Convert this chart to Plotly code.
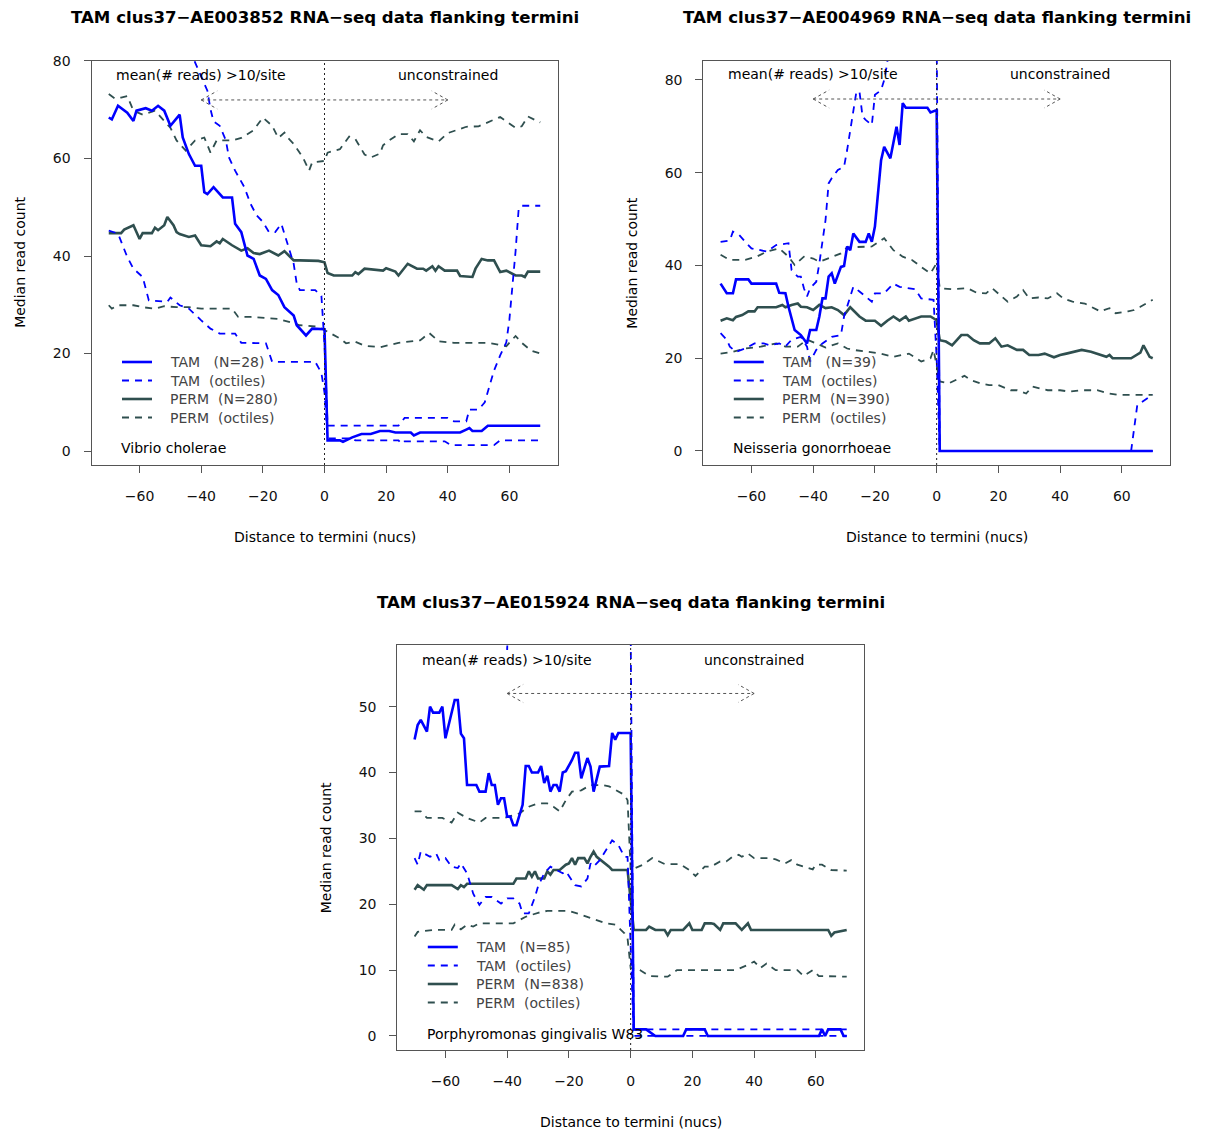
import plotly.graph_objects as go

# ---------------------------------------------------------------
# Median RNA-seq read counts around TAM termini (clus37) compared
# with permuted sites, for three genomes.
# ---------------------------------------------------------------

X_TICKS = [-60, -40, -20, 0, 20, 40, 60]

# ---- Vibrio cholerae (AE003852) ----
vc_tam_x = [-70, -69, -67, -64, -62, -61, -58, -56, -54, -52, -50, -47, -46, -44, -42, -40, -39, -38, -36, -33,
            -30, -29, -27, -25, -23, -21, -19, -17, -15, -13, -10, -9, -6, -4, 0, 1, 5, 6, 9, 12, 15, 18, 21, 23,
            28, 29, 31, 44, 46, 47, 48, 51, 53, 70]
vc_tam_y = [68.4, 68, 70.8, 69.4, 67.7, 69.8, 70.3, 69.8, 70.8, 69.8, 66.7, 69, 64.3, 60.9, 58.5, 58.5, 53.1, 52.7, 54.1, 52,
            52, 46.6, 44.9, 40.1, 39.4, 36, 35.3, 33, 32, 29.5, 27.8, 25.8, 23.7, 25.1, 25, 2.2, 2.2, 1.9, 2.8, 3.5, 3.5, 4.1, 4.1, 3.8,
            3.8, 3.2, 3.8, 3.8, 4.4, 4.7, 4.1, 4.1, 5.2, 5.2]
vc_tam_hi_x = [-70, -44, -42, -38, -37, -36, -34, -32, -31, -29, -26, -24, -22, -20, -18, -16, -14, -12, -10, -9, -8, -3, -1, 0,
               1, 10, 24, 26, 40, 42, 46, 47, 50, 52, 54, 55, 57, 59, 60, 61, 62, 63, 64, 70]
vc_tam_hi_y = [95, 84, 79.7, 73.9, 70.1, 67.6, 66.7, 63.7, 60.2, 57.5, 54.1, 50.7, 48.3, 47, 44.9, 44.9, 46.6, 42.5, 38.4, 34.3, 33, 33, 31.8, 22,
               5.2, 5.2, 5.2, 6.8, 6.8, 6.1, 6.1, 8.5, 8.5, 10, 14, 16.5, 19.6, 22.3, 27, 33.5, 41, 49.7, 50.3, 50.3]
vc_tam_lo_x = [-70, -67, -64, -62, -59, -57, -51, -50, -47, -44, -40, -37, -34, -29, -27, -19, -17, -3, -1, 0,
               1, 9, 10, 24, 25, 26, 39, 41, 55, 57, 70]
vc_tam_lo_y = [45.2, 44.6, 39.8, 37.4, 35.7, 30.9, 30.6, 31.5, 29.9, 29.2, 26.8, 25.1, 24.1, 24.1, 22.2, 22.1, 18.3, 18.3, 16, 12,
               2.6, 2.6, 2.2, 2.2, 1.5, 2.0, 2.0, 1.2, 1.2, 2.2, 2.2]
vc_perm_x = [-70, -66, -65, -62, -60, -59, -56, -55, -54, -52, -51, -49, -48, -47, -44, -42, -40, -37, -35, -34, -33, -30,
             -27, -25, -23, -21, -18, -15, -13, -10, -8, -2, 0, 1, 3, 9, 10, 11, 13, 19, 20, 23, 24, 27, 30, 32, 33, 35,
             36, 37, 39, 43, 44, 48, 49, 51, 53, 55, 57, 59, 62, 64, 65, 66, 70]
vc_perm_y = [44.7, 44.7, 45.4, 46.3, 43.5, 44.7, 44.7, 45.8, 45.3, 46.3, 48, 46.3, 44.9, 44.5, 43.9, 44.2, 42.2, 42.0, 43, 42.6, 43.5, 42.2,
             41.1, 41.6, 40.6, 40.4, 41.1, 40.1, 41.0, 39.1, 39.1, 39, 38.7, 36.5, 36, 36, 36.7, 36.3, 37.4, 37, 37.5, 36.8, 36, 38.4, 37.4, 37.4, 37, 37.9,
             37, 37.9, 37, 37, 35.9, 35.7, 37.4, 39.4, 39.1, 39.1, 36.7, 37, 36, 36, 35.7, 36.8, 36.8]
vc_perm_hi_x = [-70, -68, -66, -64, -62, -59, -55, -53, -50, -48, -45, -42, -39, -37, -35, -30, -27, -23, -20, -17, -15, -13, -12,
                -10, -7, -5, -4, 0, 1, 5, 8, 10, 13, 15, 18, 19, 21, 24, 27, 29, 31, 33, 37, 40, 43, 46, 50, 54, 57, 59,
                62, 64, 66, 70]
vc_perm_hi_y = [73.2, 72.3, 72.5, 72.8, 69.8, 69, 69.8, 68.4, 66.3, 63.7, 61.6, 63.7, 64.3, 61.2, 63.7, 63.7, 64.2, 65.8, 68.4, 66.7, 64.2, 65.3, 64.3,
                63, 60.2, 57.5, 59.2, 59.5, 61.2, 61.9, 64.5, 64, 60.8, 60.2, 61, 62.7, 63.7, 65, 65, 63.5, 65.8, 64.4, 63.5, 65.2, 65.8, 66.5, 66.6, 67.6, 68.5, 67.6,
                66.3, 66.6, 68.6, 67.4]
vc_perm_lo_x = [-70, -69, -67, -62, -59, -55, -52, -48, -44, -40, -30, -28, -24, -15, -11, -8, -2, 1, 5, 7, 10, 13, 18, 24,
                31, 32, 34, 36, 37, 42, 53, 59, 62, 64, 67, 70]
vc_perm_lo_y = [29.9, 29.2, 29.9, 29.9, 29.5, 29.2, 29.7, 29.5, 29.5, 29.2, 29.2, 27.5, 27.5, 27.1, 26.4, 25.8, 25.5, 24.4, 23.1, 22.1, 22.4, 21.6, 21.3, 22.2,
                22.7, 23.2, 24.2, 23.1, 22.5, 22.2, 22.2, 21.5, 23.6, 22.2, 20.6, 20]

# ---- Neisseria gonorrhoeae (AE004969) ----
ng_tam_x = [-70, -68, -66, -65, -61, -60, -52, -51, -49, -48, -46, -44, -42, -41, -39, -38, -37, -36, -35, -34, -33, -31,
            -30, -29, -28, -27, -25, -23, -22, -21, -20, -18, -17, -15, -13, -12, -11, -10, -3, -2, 0, 1, 70]
ng_tam_y = [36.1, 34, 34, 37, 37, 36.1, 36.1, 34.1, 34, 31.1, 26.1, 25, 23.2, 26.1, 26.1, 29, 32.9, 32.9, 37.6, 38.3, 36.1, 39.7,
            39.9, 44.1, 43.3, 46.9, 45.1, 45.1, 46.9, 45.1, 48.4, 62.7, 65.6, 63.1, 69.9, 66, 75, 74, 74, 73, 73.5, 0, 0]
ng_tam_hi_x = [-70, -67, -66, -64, -62, -60, -55, -52, -48, -47, -45, -44, -43, -42, -41, -39, -38, -37, -36, -35, -34, -32,
               -30, -29, -28, -27, -26, -25, -24, -23, -21, -20, -18, -17, -16, -15, -1, 0, 1, 63, 65, 69, 70]
ng_tam_hi_y = [45.1, 45.4, 47.3, 46.6, 45.1, 43.7, 43, 44.4, 44.8, 39, 37.6, 37.6, 35.1, 33.3, 35.1, 36.5, 40.5, 44.8, 49.8, 57.7, 58.8, 60.6,
               61.3, 64.9, 68.9, 73.5, 77.5, 77.5, 72.1, 71.4, 70.3, 76.8, 77.8, 80, 83.6, 92, 95, 90, 0, 0, 9.9, 11.7, 12.2]
ng_tam_lo_x = [-70, -68, -67, -65, -62, -59, -56, -54, -51, -49, -47, -44, -42, -41, -39, -37, -34, -31, -30, -29, -27, -25,
               -23, -21, -20, -17, -14, -12, -7, -5, -1, 0, 1, 70]
ng_tam_lo_y = [25.4, 24, 22.5, 21.4, 22.1, 23.2, 23.2, 22.8, 23.2, 22.5, 24, 24.6, 22.5, 19.3, 21.8, 23.2, 24.6, 25, 29, 31.1, 35.4, 34.4,
               33.3, 32.2, 34, 34, 36.1, 35.4, 34.9, 32.9, 32.6, 20, 0, 0]
ng_perm_x = [-70, -68, -66, -65, -63, -61, -59, -58, -52, -50, -49, -47, -45, -44, -42, -40, -38, -36, -34, -32, -30, -28,
             -25, -23, -20, -18, -16, -14, -12, -10, -9, -5, -2, 0, 1, 3, 5, 8, 10, 12, 14, 17, 19, 21, 23, 26, 28,
             30, 33, 35, 38, 40, 42, 45, 47, 50, 53, 55, 56, 57, 63, 66, 67, 69, 70]
ng_perm_y = [28.1, 28.6, 28.2, 28.9, 29.3, 30.1, 30.1, 31, 31, 31.5, 31, 31.5, 31.8, 31.1, 31, 30.4, 31.5, 30.8, 31, 30.4, 29.3, 31,
             29, 28.1, 28.1, 27, 28.1, 29, 28.1, 29, 28.1, 29, 29, 28.2, 23.9, 23.6, 22.8, 25, 25, 23.9, 23.2, 23.2, 24.3, 22.5, 22.8, 21.8, 21.8,
             20.7, 20.7, 21, 20.2, 20.7, 21, 21.4, 21.8, 21.4, 20.7, 20.3, 20.7, 20, 20, 21.2, 22.8, 20.3, 20]
ng_perm_hi_x = [-70, -67, -62, -58, -55, -51, -48, -46, -43, -40, -38, -35, -31, -29, -21, -17, -14, -11, -8, -5, -2, 0, 1,
                5, 10, 13, 16, 18, 20, 23, 26, 28, 30, 33, 36, 39, 41, 44, 48, 51, 53, 56, 58, 62, 64, 66, 69, 70]
ng_perm_hi_y = [42.3, 41.2, 41.2, 42, 43, 43.7, 41.9, 40.1, 41.9, 41.5, 40.8, 41.5, 42.6, 43.9, 44.1, 45.9, 43.3, 41.9, 41.2, 39.7, 38.3, 40.5, 35.1,
                34.9, 35.1, 34.1, 34, 35.1, 34, 32.2, 33.3, 34.7, 32.9, 33.1, 32.9, 34, 32.9, 32.2, 31.8, 30.8, 30.1, 30.8, 29.7, 30.1, 30.4, 31.1, 32.2, 32.6]
ng_perm_lo_x = [-70, -66, -62, -57, -52, -49, -45, -42, -39, -36, -32, -29, -27, -23, -18, -14, -9, -5, -2, -1, 1, 4,
                6, 9, 11, 14, 17, 20, 24, 26, 29, 31, 36, 40, 43, 47, 52, 56, 59, 70]
ng_perm_lo_y = [21, 21.4, 22.1, 22.5, 23.2, 22.5, 22.5, 24, 23.2, 22.3, 23.2, 22.1, 21.8, 21.4, 21, 20.3, 21, 19.3, 20, 21.8, 15, 14.6,
                15.3, 16.2, 15.3, 14.6, 14.2, 14.2, 13.1, 13.1, 12.4, 13.9, 13.1, 13.1, 12.8, 13.1, 13.1, 12.4, 12.1, 12.1]

# ---- Porphyromonas gingivalis W83 (AE015924) ----
pg_tam_x = [-70, -69, -68, -66, -65, -64, -62, -61, -60, -57, -56, -55, -54, -53, -50, -49, -47, -46, -45, -44, -43, -42,
            -41, -40, -39, -38, -37, -35, -34, -33, -32, -30, -29, -28, -27, -26, -25, -24, -23, -22, -21, -19, -18, -17,
            -16, -14, -13, -12, -10, -7, -6, -5, -4, 0, 1, 5, 8, 17, 18, 24, 25, 61, 62, 63, 64, 68, 69, 70]
pg_tam_y = [45, 47.2, 48, 46.2, 50, 49.1, 49.1, 50, 45.2, 51, 51, 45.9, 45.2, 38.1, 38.1, 37.1, 37.1, 39.9, 38.1, 38.1, 35.1, 36.1,
            36.1, 33.3, 33.3, 32, 32, 35.1, 41, 41, 40, 40, 41, 38.4, 39.5, 37.1, 38.1, 38.1, 37.1, 40, 40.2, 41.9, 43, 43,
            39.1, 42.2, 40.9, 37.1, 40.9, 41, 46, 45, 46, 46, 1, 1, 0, 0, 1, 1, 0, 0, 1, 0, 1, 1, 0, 0]
pg_tam_hi_x = [-70, -41, -40, -39, -1, 0, 1, 70]
pg_tam_hi_y = [75, 75, 58.6, 75, 75, 62, 1, 1]
pg_tam_lo_x = [-70, -69, -68, -65, -63, -62, -60, -58, -56, -55, -53, -51, -49, -47, -45, -42, -40, -38, -36, -35, -33, -31,
               -30, -28, -26, -24, -22, -21, -18, -16, -14, -13, -12, -10, -8, -6, -4, -2, -1, 0, 1, 70]
pg_tam_lo_y = [27, 26, 28, 27.2, 27.7, 26.7, 27, 25.7, 25.5, 26.2, 24.7, 21.6, 19.9, 21.1, 21.1, 20.1, 20.9, 20.9, 20.1, 18.6, 18.6, 21.1,
               22.7, 24.7, 25.7, 25.2, 24.7, 25, 22.9, 22.7, 23.9, 26.2, 25.7, 26.7, 28.2, 29.7, 29, 27.2, 27.2, 14, 0, 0]
pg_perm_x = [-70, -69, -67, -66, -58, -56, -55, -54, -53, -38, -37, -34, -33, -32, -31, -30, -28, -27, -26, -25, -23, -21,
             -20, -19, -18, -17, -15, -14, -13, -12, -11, -9, -7, -6, -1, 1, 5, 6, 8, 11, 12, 13, 17, 19, 20, 23, 24,
             26, 27, 29, 30, 34, 36, 38, 39, 64, 65, 66, 70]
pg_perm_y = [22.2, 22.9, 22.2, 22.9, 22.9, 22.3, 22.9, 22.6, 23.1, 23.1, 23.9, 23.9, 25, 24.2, 25, 23.9, 23.9, 25, 24.5, 25.2, 25.2, 26,
             26.2, 27, 26, 27, 27, 26.2, 27.2, 28, 27.2, 26.5, 25.7, 25.2, 25.2, 16.1, 16.1, 16.6, 16.1, 16.1, 15.3, 16.1, 16.1, 17.1, 16.1, 16.1, 17.1,
             17.1, 17, 16.1, 17.1, 17.1, 16.1, 17.1, 16.1, 16.1, 15.2, 15.7, 16.1]
pg_perm_hi_x = [-70, -68, -66, -61, -58, -56, -53, -49, -47, -41, -36, -33, -30, -27, -25, -23, -21, -19, -16, -13, -9, -7,
                -2, -1, 0, 4, 7, 11, 16, 19, 21, 24, 26, 29, 31, 33, 35, 36, 38, 40, 45, 47, 50, 52, 54, 59, 60, 62,
                65, 70]
pg_perm_hi_y = [34.1, 34.1, 33.1, 33.1, 32.4, 33.9, 33.1, 32.4, 33.1, 33.1, 33.8, 34.8, 35.3, 35.3, 34.8, 34.1, 35.8, 37.1, 37.3, 38.1, 38.1, 37.9,
                36.6, 35.8, 25.2, 26, 27, 26.1, 26.1, 25.2, 24.3, 25.7, 25.7, 26.5, 26.5, 27.2, 27.5, 27.2, 27.7, 27, 27, 26.8, 26.2, 26.7, 26, 25.3, 26, 26,
                25.2, 25.1]
pg_perm_lo_x = [-70, -69, -64, -58, -57, -55, -53, -51, -49, -38, -34, -30, -27, -20, -16, -14, -11, -8, -5, -2, -1, 0,
                3, 6, 12, 15, 26, 34, 38, 40, 42, 44, 47, 54, 56, 59, 61, 70]
pg_perm_lo_y = [15.1, 15.8, 16.1, 16.1, 16.9, 16.2, 16.9, 16.6, 17.1, 17.1, 18.1, 18.7, 19, 19, 18.4, 18.1, 17.6, 17.1, 16.9, 15.6, 14.8, 10.3,
                10, 9.1, 9, 10, 10, 10, 10.8, 11.3, 10.3, 11, 10, 10, 9.1, 10, 9.1, 9]

# ---- panel metadata ----
titles = ["TAM clus37\u2212AE003852 RNA\u2212seq data flanking termini",
          "TAM clus37\u2212AE004969 RNA\u2212seq data flanking termini",
          "TAM clus37\u2212AE015924 RNA\u2212seq data flanking termini"]
species = ["Vibrio cholerae", "Neisseria gonorrhoeae", "Porphyromonas gingivalis W83"]
tam_counts = [28, 39, 85]
perm_counts = [280, 390, 838]
y_ticks = [[0, 20, 40, 60, 80], [0, 20, 40, 60, 80], [0, 10, 20, 30, 40, 50]]
y_ranges = [[-2.86, 80.05], [-3.02, 84.16], [-2.13, 59.36]]
note_y = [77.2, 81.2, 57.1]      # height of the "mean(# reads)" / "unconstrained" notes
arrow_y = [72.0, 75.9, 52.0]     # height of the double arrow

series = [
    dict(tam=(vc_tam_x, vc_tam_y), tam_hi=(vc_tam_hi_x, vc_tam_hi_y), tam_lo=(vc_tam_lo_x, vc_tam_lo_y),
         perm=(vc_perm_x, vc_perm_y), perm_hi=(vc_perm_hi_x, vc_perm_hi_y), perm_lo=(vc_perm_lo_x, vc_perm_lo_y)),
    dict(tam=(ng_tam_x, ng_tam_y), tam_hi=(ng_tam_hi_x, ng_tam_hi_y), tam_lo=(ng_tam_lo_x, ng_tam_lo_y),
         perm=(ng_perm_x, ng_perm_y), perm_hi=(ng_perm_hi_x, ng_perm_hi_y), perm_lo=(ng_perm_lo_x, ng_perm_lo_y)),
    dict(tam=(pg_tam_x, pg_tam_y), tam_hi=(pg_tam_hi_x, pg_tam_hi_y), tam_lo=(pg_tam_lo_x, pg_tam_lo_y),
         perm=(pg_perm_x, pg_perm_y), perm_hi=(pg_perm_hi_x, pg_perm_hi_y), perm_lo=(pg_perm_lo_x, pg_perm_lo_y)),
]

# ---- page geometry (pixels) ----
W, H = 1206, 1135
BOXES = [(91.5, 557.5, 60.7, 465.0), (703.3, 1170.0, 60.7, 465.0), (397.3, 864.0, 645.0, 1050.0)]
X_RANGE = [-75.6, 75.6]

TAM_BLUE = "#0000FF"
PERM_GREY = "#2F4F4F"
FONT = "DejaVu Sans"
SOLID_W = 2.6
DASH_W = 1.8
DASH = "7px,6px"


def px(x, y):
    return x / W, 1 - y / H


fig = go.Figure()
shapes, annotations = [], []
layout_axes = {}

for i in range(3):
    sfx = "" if i == 0 else str(i + 1)
    xa, ya = "x" + sfx, "y" + sfx
    left, right, top, bottom = BOXES[i]
    s = series[i]

    styles = [
        ("perm_hi", PERM_GREY, DASH_W, DASH), ("perm_lo", PERM_GREY, DASH_W, DASH),
        ("perm", PERM_GREY, SOLID_W, "solid"),
        ("tam_hi", TAM_BLUE, DASH_W, DASH), ("tam_lo", TAM_BLUE, DASH_W, DASH),
        ("tam", TAM_BLUE, SOLID_W, "solid"),
    ]
    for key, color, width, dash in styles:
        xs, ys = s[key]
        fig.add_trace(go.Scatter(x=xs, y=ys, mode="lines", xaxis=xa, yaxis=ya,
                                 line=dict(color=color, width=width, dash=dash),
                                 showlegend=False, hoverinfo="skip"))

    axis_common = dict(showline=True, mirror=True, linecolor="#555", linewidth=1,
                       ticks="outside", ticklen=7, tickwidth=1, tickcolor="#555",
                       showgrid=False, zeroline=False, automargin=False,
                       tickfont=dict(family=FONT, size=14, color="#111"))
    layout_axes["xaxis" + sfx] = dict(
        axis_common, domain=[left / W, right / W], range=X_RANGE, anchor=ya,
        tickmode="array", tickvals=X_TICKS, ticklabelstandoff=11)
    layout_axes["yaxis" + sfx] = dict(
        axis_common, domain=[1 - bottom / H, 1 - top / H], range=y_ranges[i], anchor=xa,
        tickmode="array", tickvals=y_ticks[i], ticklabelstandoff=10)

    # dotted terminus line
    shapes.append(dict(type="line", xref=xa, yref=ya + " domain", x0=0, x1=0, y0=0, y1=1,
                       line=dict(color="#222", width=1, dash="2px,3px")))
    # double-headed dotted arrow between -40 and 40
    ay = arrow_y[i]
    arrow_line = dict(color="#555", width=1, dash="3px,3px")
    shapes.append(dict(type="line", xref=xa, yref=ya, x0=-40, x1=40, y0=ay, y1=ay, line=arrow_line))
    for tip, direction in ((-40, 1), (40, -1)):
        for sgn in (1, -1):
            shapes.append(dict(type="line", xref=xa, yref=ya, xsizemode="pixel", ysizemode="pixel",
                               xanchor=tip, yanchor=ay, x0=0, x1=16 * direction, y0=0, y1=9 * sgn,
                               line=arrow_line))

    annotations.append(dict(xref=xa, yref=ya, x=-40, y=note_y[i], text="mean(# reads) >10/site",
                            showarrow=False, font=dict(family=FONT, size=14, color="#000")))
    annotations.append(dict(xref=xa, yref=ya, x=40, y=note_y[i], text="unconstrained",
                            showarrow=False, font=dict(family=FONT, size=14, color="#000")))

    # titles
    cx = (left + right) / 2
    tx, ty = px(cx, top - 42.7)
    annotations.append(dict(xref="paper", yref="paper", x=tx, y=ty, text="<b>" + titles[i] + "</b>",
                            showarrow=False, xanchor="center", yanchor="middle",
                            font=dict(family=FONT, size=16.6, color="#000")))
    ax_x, ax_y = px(cx, bottom + 72)
    annotations.append(dict(xref="paper", yref="paper", x=ax_x, y=ax_y, text="Distance to termini (nucs)",
                            showarrow=False, xanchor="center", yanchor="middle",
                            font=dict(family=FONT, size=14, color="#000")))
    yt_x, yt_y = px(left - 71.5, (top + bottom) / 2)
    annotations.append(dict(xref="paper", yref="paper", x=yt_x, y=yt_y, text="Median read count",
                            showarrow=False, textangle=-90, xanchor="center", yanchor="middle",
                            font=dict(family=FONT, size=14, color="#000")))

    # legend block in the lower-left corner
    entries = [
        ("TAM\u00a0\u00a0\u00a0(N=%d)" % tam_counts[i], TAM_BLUE, SOLID_W, "solid"),
        ("TAM\u00a0\u00a0(octiles)", TAM_BLUE, DASH_W, DASH),
        ("PERM\u00a0\u00a0(N=%d)" % perm_counts[i], PERM_GREY, SOLID_W, "solid"),
        ("PERM\u00a0\u00a0(octiles)", PERM_GREY, DASH_W, DASH),
    ]
    for k, (label, color, width, dash) in enumerate(entries):
        row_y = bottom - 103 + 18.5 * k
        x0, y0 = px(left + 30.5, row_y)
        x1, _ = px(left + 60.5, row_y)
        shapes.append(dict(type="line", xref="paper", yref="paper", x0=x0, x1=x1, y0=y0, y1=y0,
                           line=dict(color=color, width=width, dash=dash)))
        lx, _ = px(left + 76.5, row_y)
        annotations.append(dict(xref="paper", yref="paper", x=lx, y=y0, text=label, showarrow=False,
                                xanchor="left", yanchor="middle",
                                font=dict(family=FONT, size=14, color="#444")))
    sx, sy = px(left + 27.5, bottom - 16.5)
    annotations.append(dict(xref="paper", yref="paper", x=sx, y=sy, text=species[i], showarrow=False,
                            xanchor="left", yanchor="middle", font=dict(family=FONT, size=14, color="#000")))

fig.update_layout(
    width=W, height=H, margin=dict(l=0, r=0, t=0, b=0, autoexpand=False),
    paper_bgcolor="white", plot_bgcolor="white",
    shapes=shapes, annotations=annotations, showlegend=False,
    **layout_axes,
)

fig.write_html("out.html")
